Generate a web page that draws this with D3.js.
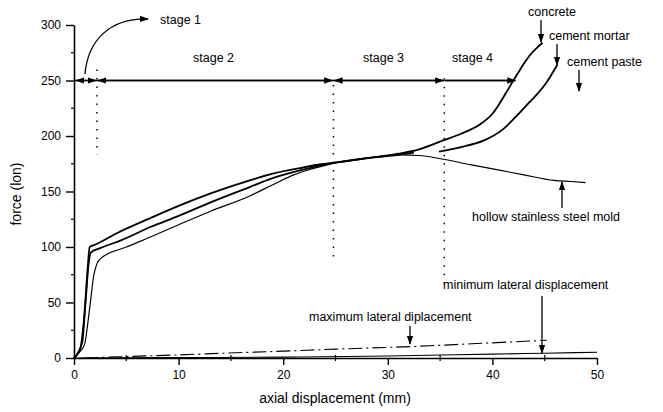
<!DOCTYPE html>
<html>
<head>
<meta charset="utf-8">
<script src="https://cdn.jsdelivr.net/npm/d3@7"></script>
<style>
  body { margin: 0; background: #fff; }
  svg { font-family: "Liberation Sans", Arial, sans-serif; }
</style>
</head>
<body>
<svg id="chart" width="663" height="412"></svg>
<script>
// axial displacement (mm) vs force (ton)
const concrete = [[0,0],[0.3,3],[0.6,8],[1.0,40],[1.3,80],[1.5,100],[2,102],[4,112],[7.3,126],[10,137],[13,148],[16.8,160],[19,166],[21.6,171],[25,176],[28,180],[31,184],[33,188],[35.3,196],[37,202],[38.9,211],[40,220],[40.8,231],[41.5,242],[42.4,256],[43,265],[43.6,273],[44.2,279],[44.8,284]];
const mortar = [[0,0],[0.4,5],[0.8,15],[1.1,50],[1.4,85],[1.6,95],[2.5,99],[4.5,106],[7.3,118],[10,128],[13,140],[16.8,154],[19,162],[21.6,169],[25,176],[28,180],[31,183],[32.5,185],null,[34.9,186],[37,190],[39.2,196],[41,206],[42.4,219],[43.5,230],[44.3,238],[45,246],[45.5,253],[46.2,264]];
const paste = [[0,0],[0.5,5],[1,12],[1.5,45],[1.9,75],[2.2,85],[2.6,90],[5,100],[7.3,109],[10,120],[13,132],[16.8,146],[19.2,157],[21,165],[23,171],[25,176]];
const mold = [[21.6,171],[23,174],[25.8,177],[28,180],[31.2,183],[33,182.5],[35.3,179],[38,174],[40.8,169],[43,165],[45.9,160],[47.5,159],[48.9,158]];
const maxLateral = [[1,0],[5,1.3],[10,2.8],[14,4.2],[20,6.2],[25,8],[32.2,10.3],[38,12.8],[45.2,16]];
const minLateral = [[0,0],[10,0.3],[20,0.8],[30,1.8],[40,3.5],[45,4.3],[50,5.2]];

const xTicks = [0, 10, 20, 30, 40, 50];
const yTicks = [0, 50, 100, 150, 200, 250, 300];
const stageBounds = [0, 2.2, 24.8, 35.4, 42.2];   // stage limits on the 250 ton line
const stageLevel = 250;
const dividerX = [2.2, 24.8, 35.4];
const dividerTop = [260, 246, 252];
const dividerBottom = [183, 86, 61];

const svg = d3.select('#chart');
const x = d3.scaleLinear().domain([0, 50]).range([74, 597]);
const y = d3.scaleLinear().domain([0, 300]).range([358, 25]);

const defs = svg.append('defs');
defs.append('marker').attr('id', 'ah')
    .attr('viewBox', '0 0 10 10').attr('refX', 9).attr('refY', 5)
    .attr('markerWidth', 7).attr('markerHeight', 7).attr('orient', 'auto-start-reverse')
    .append('path').attr('d', 'M0,1.5L10,5L0,8.5Z').attr('fill', '#000');

// axes
const yAxis = svg.append('g').attr('transform', `translate(${x(0)},0)`)
    .call(d3.axisLeft(y).tickValues(yTicks).tickSize(8).tickSizeOuter(0).tickPadding(5));
const xAxis = svg.append('g').attr('transform', `translate(0,${y(0)})`)
    .call(d3.axisBottom(x).tickValues(xTicks).tickSize(7).tickSizeOuter(0).tickPadding(5));
[yAxis, xAxis].forEach(g => {
    g.select('.domain').attr('stroke', '#000').attr('stroke-width', 1.6);
    g.selectAll('.tick line').attr('stroke', '#000').attr('stroke-width', 1.4);
    g.selectAll('.tick text').attr('fill', '#000').attr('font-size', 12)
        .attr('font-family', '"Liberation Sans", Arial, sans-serif');
});
// minor ticks
svg.append('g').selectAll('line').data(d3.range(25, 300, 50)).join('line')
    .attr('x1', x(0) - 3).attr('x2', x(0)).attr('y1', d => y(d)).attr('y2', d => y(d))
    .attr('stroke', '#000').attr('stroke-width', 1.2);
svg.append('g').selectAll('line').data(d3.range(5, 50, 10)).join('line')
    .attr('x1', d => x(d)).attr('x2', d => x(d)).attr('y1', y(0) - 3).attr('y2', y(0) + 3)
    .attr('stroke', '#000').attr('stroke-width', 1.2);

svg.append('text').attr('transform', `translate(21,194) rotate(-90)`)
    .attr('text-anchor', 'middle').attr('font-size', 14).text('force (lon)');
svg.append('text').attr('x', 335).attr('y', 403)
    .attr('text-anchor', 'middle').attr('font-size', 14).text('axial displacement (mm)');

// curves
const line = d3.line().defined(d => d !== null).x(d => x(d[0])).y(d => y(d[1]))
    .curve(d3.curveMonotoneX);
const curves = [
    { data: concrete, w: 1.8 },
    { data: mortar, w: 1.8 },
    { data: paste, w: 1.2 },
    { data: mold, w: 1.1 },
    { data: minLateral, w: 1.1 },
    { data: maxLateral, w: 1.1, dash: '14,4,2,4' },
];
svg.append('g').selectAll('path').data(curves).join('path')
    .attr('d', d => line(d.data)).attr('fill', 'none').attr('stroke', '#000')
    .attr('stroke-width', d => d.w).attr('stroke-dasharray', d => d.dash || null)
    .attr('stroke-linejoin', 'round');

// stage dividers
svg.append('g').selectAll('line').data(dividerX).join('line')
    .attr('x1', d => x(d)).attr('x2', d => x(d))
    .attr('y1', (d, i) => y(dividerTop[i])).attr('y2', (d, i) => y(dividerBottom[i]))
    .attr('stroke', '#000').attr('stroke-width', 1.5).attr('stroke-dasharray', '1.5,7');

// stage arrows along 250 ton
svg.append('line').attr('x1', x(stageBounds[0])).attr('x2', x(stageBounds[4]))
    .attr('y1', y(stageLevel)).attr('y2', y(stageLevel)).attr('stroke', '#000').attr('stroke-width', 1.3);
const seg = d3.pairs(stageBounds).map(([a, b], i) => ({ a, b, i }));
svg.append('g').selectAll('line').data(seg).join('line')
    .attr('x1', d => x(d.a) + (d.i === 0 ? 2 : 1)).attr('x2', d => x(d.b) - (d.i === 3 ? 0 : 1))
    .attr('y1', y(stageLevel)).attr('y2', y(stageLevel))
    .attr('stroke', '#000').attr('stroke-width', 1.3)
    .attr('marker-start', d => d.i === 3 ? null : 'url(#ah)')
    .attr('marker-end', 'url(#ah)');

// labels
const lab = (t, px, py, anchor) => svg.append('text').attr('x', px).attr('y', py)
    .attr('font-size', 12.5).attr('text-anchor', anchor || 'start').text(t);
lab('stage 1', 160, 24);
lab('stage 2', 193, 62);
lab('stage 3', 363, 62);
lab('stage 4', 452, 62);
lab('concrete', 528, 16);
lab('cement mortar', 549, 40);
lab('cement paste', 567, 66);
lab('hollow stainless steel mold', 472, 221);
lab('minimum lateral displacement', 443, 289);
lab('maximum lateral diplacement', 309, 321);

// curved arrow for stage 1
svg.append('path').attr('d', 'M85,74 C88,40 110,18 148,19')
    .attr('fill', 'none').attr('stroke', '#000').attr('stroke-width', 1.3).attr('marker-end', 'url(#ah)');

// pointer arrows
const pointers = [
    [541, 20, 541, 42], [557, 44, 557, 65], [579, 70, 579, 91],
    [562, 208, 562, 182], [542, 296, 542, 353], [410, 326, 410, 344],
];
svg.append('g').selectAll('line').data(pointers).join('line')
    .attr('x1', d => d[0]).attr('y1', d => d[1]).attr('x2', d => d[2]).attr('y2', d => d[3])
    .attr('stroke', '#000').attr('stroke-width', 1.3).attr('marker-end', 'url(#ah)');
</script>
</body>
</html>
